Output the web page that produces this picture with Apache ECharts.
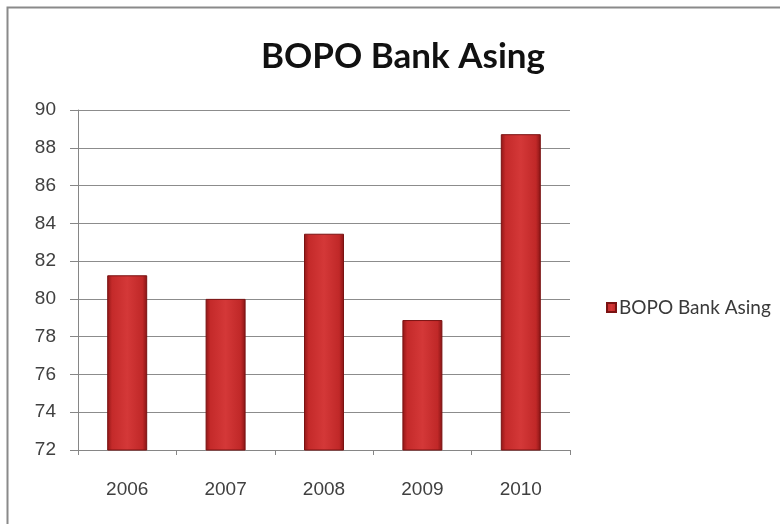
<!DOCTYPE html>
<html>
<head>
<meta charset="utf-8">
<script src="https://cdn.jsdelivr.net/npm/echarts@6/dist/echarts.min.js"></script>
<style>
  html, body { margin: 0; padding: 0; background: #ffffff; }
  #chart { width: 780px; height: 524px; }
</style>
</head>
<body>
<div id="chart"></div>
<script>
// BOPO (operating expense / operating income) of foreign banks, per year
const years = ['2006', '2007', '2008', '2009', '2010'];
const bopoValues = [81.25, 80.0, 83.45, 78.88, 88.72];
const seriesName = 'BOPO Bank Asing';
const chartTitle = 'BOPO Bank Asing';
const yMin = 72, yMax = 90, yStep = 2;

const labelFont = '"Liberation Sans", Arial, sans-serif';
const headFont = 'Lato, "Liberation Sans", Arial, sans-serif';

// Bevelled red fill: darker edges, brighter middle
const barFill = new echarts.graphic.LinearGradient(0, 0, 1, 0, [
  { offset: 0, color: '#8f1616' },
  { offset: 0.12, color: '#c42a2a' },
  { offset: 0.5, color: '#d43838' },
  { offset: 0.88, color: '#c02828' },
  { offset: 1, color: '#861414' }
]);

const chart = echarts.init(document.getElementById('chart'), null, { renderer: 'canvas' });

chart.setOption({
  backgroundColor: '#ffffff',
  animation: false,
  graphic: [
    {
      type: 'rect',
      shape: { x: 7.5, y: 7.5, width: 820, height: 600 },
      style: { fill: 'none', stroke: '#8a8a8a', lineWidth: 2 },
      z: -1
    }
  ],
  title: {
    text: chartTitle,
    left: 398,
    textAlign: 'center',
    top: 34,
    textStyle: {
      fontFamily: headFont,
      fontWeight: 'bold',
      fontSize: 35,
      color: '#111111'
    }
  },
  legend: {
    data: [seriesName],
    left: 601,
    top: 293,
    icon: 'rect',
    itemWidth: 9,
    itemHeight: 9,
    itemGap: 6,
    textStyle: {
      fontFamily: headFont,
      fontSize: 19,
      color: '#3a3a3a',
      padding: [0, 0, 0, -2]
    }
  },
  grid: {
    left: 78,
    right: 210,
    top: 110,
    bottom: 74,
    containLabel: false
  },
  xAxis: {
    type: 'category',
    data: years,
    boundaryGap: true,
    axisLine: { show: true, lineStyle: { color: '#868686', width: 1 } },
    axisTick: { show: true, length: 5, lineStyle: { color: '#868686' } },
    axisLabel: {
      margin: 30,
      fontFamily: labelFont,
      fontSize: 19,
      color: '#404040'
    }
  },
  yAxis: {
    type: 'value',
    min: yMin,
    max: yMax,
    interval: yStep,
    axisLine: { show: true, lineStyle: { color: '#868686', width: 1 } },
    axisTick: { show: true, length: 8, lineStyle: { color: '#868686' } },
    axisLabel: {
      margin: 22,
      fontFamily: labelFont,
      fontSize: 19,
      color: '#404040'
    },
    splitLine: { show: true, lineStyle: { color: '#8c8c8c', width: 1 } }
  },
  series: [
    {
      name: seriesName,
      type: 'bar',
      data: bopoValues,
      barWidth: 40,
      itemStyle: {
        color: barFill,
        borderColor: '#7a1212',
        borderWidth: 1
      }
    }
  ]
});
</script>
</body>
</html>
